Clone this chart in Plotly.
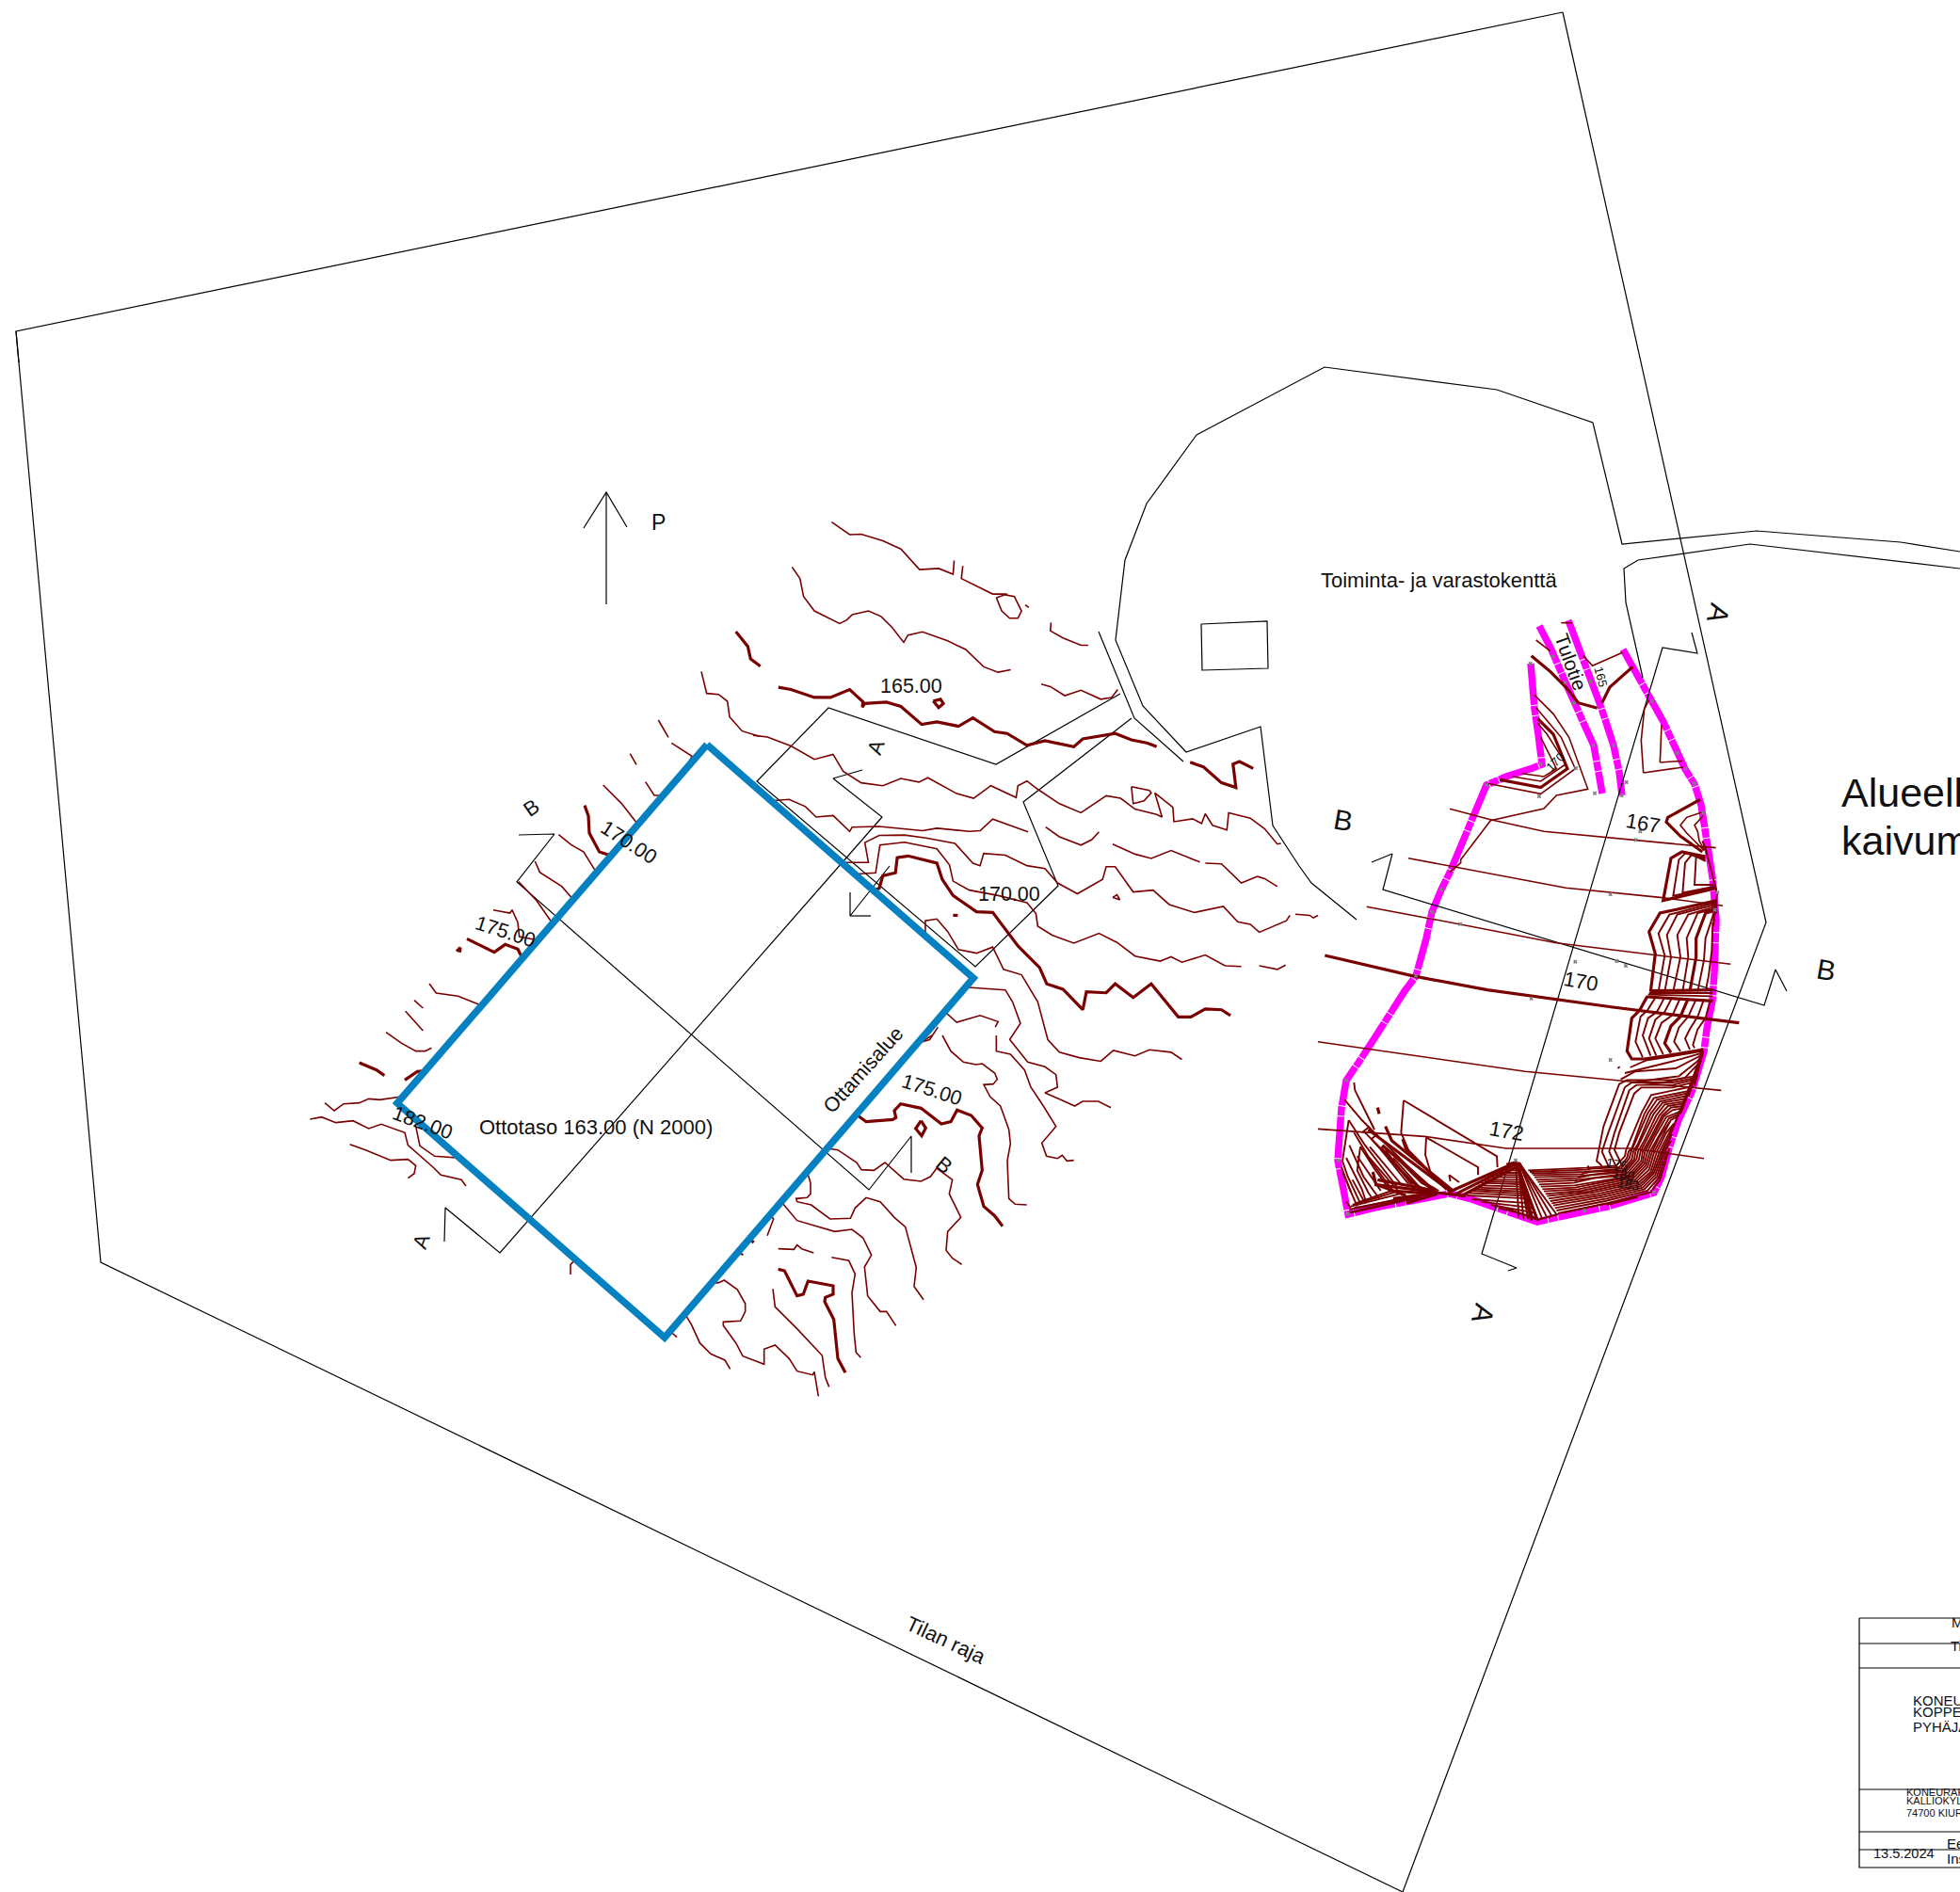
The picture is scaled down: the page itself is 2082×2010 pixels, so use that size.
import plotly.graph_objects as go

FONT = "Liberation Sans"
RED = "#7a0000"

# ---- map outlines (sheet coordinates) -------------------------------------
BOUNDARY = [[(1660,13),(17,352),(107,1341),(1490,2010)], [(1660,13),(1876,980),(1490,2010)], [(17,352),(20,385)]]
FIELD = [
    [(1271,462),(1407,390),(1590,414),(1692,449),(1723,578),(1866,564),(2019,576),(2082,586)],
    [(2082,604),(1859,578),(1740,595),(1725,604),(1727,640),(1745,720)],
    [(1271,462),(1218,535),(1195,595),(1185,680),(1214,750),(1260,799),(1339,772),(1352,877),(1380,920),(1393,938),(1441,977)],
    [(1167,671),(1205,763),(1257,809)],
    [(1276,663),(1346,660),(1347,710),(1277,712),(1276,663)],
]
SECTIONS = [
    [(1190,737),(1058,812),(880,752),(804,830),(1036,1027),(1124,941),(1087,852),(1202,763)],
    [(916,818),(885,827),(937,868),(531,1331),(473,1283),(472,1319)],
    [(945,920),(903,973),(903,948)], [(903,973),(925,973)],
    [(551,887),(589,886),(549,937),(923,1264),(968,1207),(968,1246)],
    [(1797,672),(1803,694),(1766,688),(1574,1332),(1611,1347),(1602,1350)],
    [(1457,916),(1479,907),(1469,945),(1874,1068),(1886,1030),(1898,1053)],
    [(620,561),(644,523),(666,560)], [(644,523),(644,642)],
]
TITLE_BLOCK = [[(1975,1719),(1975,1984),(2082,1984)], [(1975,1719),(2082,1719)], [(1975,1746),(2082,1746)],
               [(1975,1772),(2082,1772)], [(1975,1901),(2082,1901)], [(1975,1946),(2082,1946)], [(1975,1965),(2082,1965)]]
EXTRACTION_AREA = [(751,791),(1034,1039),(706,1421),(422,1172),(751,791)]
PIT_EDGE = [(1626,705),(1628,730),(1630,753),(1634,780),(1638,812),(1628,816),(1600,825),(1579,834),(1565,868),(1553,897),
            (1540,927),(1531,945),(1521,969),(1515,997),(1504,1037),(1492,1053),(1477,1078),(1460,1103),(1443,1129),(1430,1148),
            (1425,1177),(1423,1210),(1421,1233),(1427,1263),(1432,1290),(1460,1283),(1517,1272),(1540,1268),(1560,1273),(1610,1290),
            (1633,1298),(1660,1292),(1707,1282),(1757,1267),(1765,1250),(1773,1220),(1783,1190),(1797,1160),(1810,1117),(1813,1093),
            (1819,1063),(1821,1033),(1822,1000),(1823,977),(1819,932),(1811,887),(1807,855),(1800,833),(1790,817),(1767,767),(1750,737),(1735,710),(1724,690)]
ROAD_W = [(1635,665),(1647,688),(1663,725),(1672,747),(1683,770),(1693,792),(1697,817),(1702,843)]
ROAD_E = [(1666,659),(1677,688),(1690,724),(1701,752),(1714,792),(1720,820),(1723,845)]

Z6_THIN = [
    [(218,38),(268,73),(300,72),(360,90),(410,113),(462,170),(515,167),(555,183),(558,145)],
    [(582,160),(578,195),(665,238),(705,238)],
    [(675,248),(700,240),(725,245),(745,285),(735,305),(712,305),(690,285),(675,248)],
    [(755,268),(765,275)],
    [(108,163),(130,195),(140,245),(170,285),(240,320),(260,310),(275,295),(320,285),(355,300),(385,330),(418,372),(430,352),(470,343),(540,368),(590,392),(640,440),(680,455),(715,448)],
    [(827,317),(825,340),(860,360),(910,380),(930,380)],
    [(800,488),(825,495),(865,520),(910,505),(965,530),(995,525),(1012,503)],
    [(0,630),(40,635),(105,660),(170,697),(222,683),(250,730),(300,762),(360,770),(410,750),(460,760),(485,748),(565,792),(612,805),(660,770),(730,803),(735,770),(760,757),(790,780),(850,820),(910,845),(980,798),(1020,805),(1060,835),(1120,850),(1135,857),(1115,790),(1165,830),(1168,870),(1220,862),(1245,875),(1255,848),(1275,880),(1315,893),(1320,845),(1380,860),(1420,890),(1455,932),(1465,930)],
    [(1050,773),(1100,783),(1105,790),(1085,812),(1055,820),(1050,773)],
    [(50,812),(100,808),(145,828),(175,857),(222,853),(268,897),(275,885),(350,883),(470,895),(510,888),(600,897),(630,895),(665,863),(710,880),(763,898)],
    [(812,885),(850,912),(910,935),(940,920),(960,898)],
    [(998,932),(1060,960),(1105,972),(1160,950),(1240,982)],
    [(1255,985),(1300,987),(1355,1040),(1400,1022),(1420,1028),(1455,1050)],
    [(247,983),(320,983),(310,928),(350,908),(420,907),(480,915),(560,930),(610,985),(630,992),(640,958),(700,963),(760,992),(810,1000),(845,1040),(900,1070),(970,1030),(980,995),(1005,995),(1055,1065),(1110,1060),(1155,1100),(1225,1122),(1305,1105),(1345,1148),(1380,1155),(1405,1177),(1480,1145),(1490,1130)],
    [(998,1080),(1010,1073),(1018,1087),(998,1080)],
    [(1505,1127),(1545,1130),(1555,1137),(1568,1130)],
    [(287,1015),(340,1012),(352,935),(420,927),(510,945),(545,990),(555,1035),(600,1060),(680,1075),(760,1095),(785,1125),(790,1160),(830,1185),(890,1207),(960,1180),(1010,1205),(1060,1243),(1130,1257),(1160,1245),(1190,1260),(1255,1240),(1310,1270),(1355,1272)],
    [(1405,1270),(1455,1280),(1478,1268)],
    [(478,1185),(478,1145),(510,1140),(540,1175),(570,1225),(620,1235),(665,1218),(695,1280),(745,1295),(790,1370),(818,1475),(850,1510),(905,1525),(965,1535),(1000,1505),(1060,1520),(1100,1503),(1160,1510),(1190,1530)],
    [(597,1330),(700,1337),(720,1370),(742,1430),(712,1475)],
    [(535,1400),(565,1427),(630,1408),(680,1425),(672,1440)],
    [(465,1482),(490,1475),(513,1440)],
]
Z6_THICK = [
    [(70,497),(105,503),(170,525),(215,525),(268,503),(305,537),(303,552),(310,542),(370,538),(410,550),(468,600),(510,593),(570,605),(610,582),(670,620),(705,625),(760,658),(810,645),(890,662),(915,640),(1005,625),(1050,643),(1095,652),(1120,662)],
    [(500,535),(520,530),(528,542),(515,553),(500,535)],
    [(1213,705),(1250,718),(1300,762),(1340,775),(1332,710),(1350,703),(1388,722)],
    [(335,1060),(350,1055),(360,1020),(395,1012),(400,970),(430,965),(510,985),(525,1030),(555,1075),(620,1120),(665,1122),(735,1215),(795,1275),(815,1320),(860,1335),(915,1392),(925,1342),(980,1345),(1005,1320),(1055,1358),(1105,1320),(1180,1412),(1215,1412),(1255,1390),(1300,1392),(1325,1408)],
    [(555,1130),(568,1130)],
]
Z5_THIN = [
    [(598,20),(630,0)],
    [(663,0),(690,50),(730,85),(770,93),(790,90),(830,120),(838,140),(825,155),(795,157),(815,195),(848,225),(875,300),(880,345),(870,400),(875,520),(895,538),(932,540)],
    [(835,0),(835,50),(880,60),(925,110),(945,165),(985,225),(1025,290),(980,343),(995,385),(1030,392),(1045,382),(1060,400),(1082,398)],
    [(877,12),(935,85),(990,100),(1025,125),(1030,165),(990,183),(1040,205),(1085,225),(1110,210),(1160,210),(1200,230)],
    [(297,360),(330,365),(390,405),(405,428),(445,430),(480,405),(540,458),(595,465),(625,450),(645,423),(695,460),(685,505),(722,580),(680,625),(675,685),(695,710),(725,730)],
    [(233,437),(243,470),(243,505),(232,517),(197,520),(200,530),(245,540),(305,585),(370,583),(385,550),(420,517),(465,530),(510,580),(545,610),(580,740),(573,800),(603,842)],
    [(150,530),(200,590),(320,625),(375,618),(410,645),(437,700),(415,738),(425,830),(465,880),(485,880),(515,925)],
    [(105,638),(125,585),(115,572)],
    [(140,680),(190,682),(200,668),(215,680),(253,693)],
    [(310,707),(365,718),(385,760),(375,820),(382,950),(388,1010),(403,1027)],
    [(10,692),(28,698)],
    [(123,808),(130,865),(200,935),(280,1020),(290,1090),(302,1120)],
]
Z5_THICK = [
    [(390,253),(420,275),(505,268),(515,262),(510,240),(530,218),(595,232),(660,282),(690,275),(710,238),(755,255),(790,295),(780,320),(790,430),(775,475),(795,545),(830,575),(855,608)],
    [(595,272),(610,295),(597,320),(578,297),(595,272)],
    [(50,650),(62,660)],
    [(140,745),(160,750),(200,830),(220,825),(235,783),(315,798),(315,825),(290,835),(288,848),(317,905),(330,1030),(354,1075)],
]
Z4_THIN = [
    [(1138,15),(1170,70)], [(1180,88),(1245,130),(1225,170)], [(1048,122),(1068,157)], [(1097,212),(1125,255),(1155,255)],
    [(962,222),(1020,280),(1075,350)], [(820,380),(860,412),(900,435),(940,500)], [(745,465),(760,500),(830,545),(867,587)],
    [(692,530),(750,590),(800,662)], [(612,620),(665,630),(672,620),(690,660),(695,705),(745,715)],
    [(408,855),(430,885),(500,895),(575,925)], [(360,908),(388,933)], [(332,943),(388,1005)],
    [(270,1010),(320,1045),(365,1070),(395,1070),(415,1060)], [(498,998),(508,998)],
    [(75,1235),(105,1260),(135,1238),(185,1235),(215,1222),(250,1225),(320,1215)],
    [(28,1287),(65,1280),(110,1298),(165,1292),(215,1317),(255,1303),(330,1330),(340,1370),(420,1440),(445,1465),(510,1480),(525,1500)],
    [(365,1310),(378,1372),(425,1405),(495,1410),(533,1433)],
    [(155,1367),(205,1385),(285,1418),(340,1415),(365,1435),(360,1460),(340,1475)],
]
Z4_THICK = [
    [(903,287),(915,320),(918,375),(950,435),(980,445),(1005,430)],
    [(528,712),(615,755),(650,730),(690,745),(705,775)], [(495,752),(507,740),(505,755)],
    [(185,1107),(240,1130),(265,1148)], [(330,1162),(370,1135),(397,1133)],
]
Z10_THIN = [
    [(18,372),(18,340),(30,328),(45,328)], [(335,552),(357,572)], [(550,300),(568,310)],
    [(383,497),(405,535),(430,590),(465,625),(510,645),(527,673)],
    [(467,400),(490,398),(508,390),(550,420),(575,465),(575,490),(560,520),(505,523),(505,535),(545,590),(567,632),(635,658),(635,610),(670,597),(715,640),(740,680),(790,692),(795,682),(808,760)],
]
Z12_THIN = [[(435,640),(452,710),(490,713),(518,735),(525,785),(565,830),(620,847)]]
Z12_THICK = [[(545,513),(583,560),(592,600),(623,623)]]

Z1_THIN = [
    [(480,718),(610,752),(780,790),(885,800),(1075,817),(1328,842)],
    [(348,875),(480,900),(850,970),(1150,1000),(1350,1027)],
    [(215,1030),(430,1070),(820,1145),(1375,1213)],
    [(755,180),(800,215)], [(835,125),(870,125)], [(905,230),(935,262),(1030,220)],
    [(1097,603),(1090,500),(1100,400),(1115,370)], [(1097,603),(1225,585)],
    [(1150,570),(1155,450)], [(1150,570),(1220,565)],
    [(750,355),(810,415),(860,490),(920,655),(820,675),(780,717),(610,755),(515,880),(515,890),(480,920)],
    [(600,637),(770,670),(880,590),(835,490),(755,395)],
    [(680,615),(770,630),(850,575),(790,480),(760,445)],
    [(710,605),(780,615),(820,590),(770,490)],
    [(1285,728),(1235,745),(1215,770),(1235,795),(1290,850)],
    [(1287,740),(1260,770),(1270,790),(1275,820),(1292,850)],
]
Z1_THICK = [
    [(82,1185),(360,1250),(600,1295),(1000,1350),(1402,1400)],
    [(740,230),(800,280),(850,330),(890,380),(950,397)],
    [(965,380),(990,330),(1063,265)],
    [(640,625),(770,650),(855,590),(810,480),(760,430)],
    [(1278,688),(1175,745),(1170,760),(1205,795),(1215,805),(1285,855)],
]
Z2_THIN = [
    [(0,320),(660,415),(1285,475)],
    [(0,598),(340,622),(600,660),(1000,660),(1230,692)],
]
Z9_DENSE = [
    [(335,155),(270,140),(250,160),(232,275),(365,248)],
    [(335,160),(290,145),(270,170),(262,265),(365,245)],
    [(335,165),(305,150),(300,240),(360,240)],
    [(372,296),(220,335),(185,395),(205,465),(185,580)],
    [(372,302),(245,335),(212,400),(225,470),(205,580)],
    [(372,308),(280,335),(245,400),(255,470),(232,580)],
    [(372,314),(310,330),(275,410),(280,470),(262,580)],
    [(372,325),(360,335),(335,410),(330,480),(310,580)],
    [(358,360),(355,450),(345,530),(335,580)],
    [(155,585),(358,585)], [(152,590),(358,595)],
    [(178,595),(150,640),(128,660),(112,740),(135,790)],
    [(205,598),(180,645),(152,665),(135,720),(160,785)],
    [(228,600),(205,645),(175,670),(155,730),(178,785)],
    [(255,600),(230,655),(195,680),(175,730),(200,780)],
    [(305,605),(280,660),(250,695),(235,740),(255,770)],
    [(330,605),(310,660),(285,700),(270,730),(285,765)],
    [(350,610),(335,665),(310,700),(295,750),(300,760)],
    [(95,822),(145,800),(328,770)],
    [(78,840),(140,825),(240,800),(328,775)],
    [(65,860),(110,835),(240,825),(328,780)],
    [(100,870),(250,850),(325,790)],
    [(200,870),(270,855),(322,800)],
    [(55,825),(62,820)],
    [(360,370),(368,290),(372,270),(365,240),(335,125),(325,100)],
]
Z9_THICK = [
    [(335,150),(260,135),(225,155),(200,290),(370,250)],
    [(372,290),(190,330),(155,390),(175,460),(160,580)],
    [(372,320),(335,330),(305,410),(305,470),(285,580)],
    [(158,578),(358,575)], [(148,597),(358,610)],
    [(150,595),(125,640),(100,665),(85,770),(100,795),(140,795),(210,785),(328,765)],
    [(280,602),(255,660),(225,690),(205,745),(225,775)],
]
Z8_DENSE = [
    [(612,8),(530,22),(385,22),(360,35),(310,170),(288,280),(305,296)],
    [(608,14),(530,30),(400,30),(378,45),(325,190),(305,250),(325,295)],
    [(604,20),(530,38),(415,38),(392,55),(345,190),(328,250),(350,298)],
    [(600,28),(530,46),(430,46),(408,65),(360,190),(345,245),(372,300)],
    [(75,315),(255,308),(270,305),(360,300),(385,270),(390,250),(400,240),(440,130),(470,80),(590,55)],
    [(85,325),(240,322),(265,315),(370,310),(400,275),(405,250),(420,225),(460,130),(490,90),(580,72)],
    [(95,340),(225,335),(270,325),(380,315),(415,275),(420,250),(440,215),(478,135),(505,100),(572,90)],
    [(105,355),(215,350),(280,335),(390,325),(430,280),(435,250),(458,210),(497,135),(525,110),(565,105)],
    [(115,370),(220,365),(400,330),(440,290),(450,250),(475,200),(510,140),(560,120)],
    [(125,385),(240,375),(410,340),(450,300),(465,250),(490,200),(525,150),(550,135)],
    [(135,400),(280,380),(420,350),(460,315),(480,250),(510,190),(535,160)],
    [(145,415),(300,390),(430,360),(470,320),(495,250),(530,180)],
    [(155,430),(320,400),(440,370),(480,330),(505,250),(525,215)],
    [(165,447),(320,415),(460,380),(490,340),(520,240)],
    [(70,310),(255,302),(350,295),(378,265),(382,245),(432,125),(462,70),(596,42)],
    [(80,320),(250,315),(365,305),(392,272),(398,250),(450,130),(480,85),(585,63)],
    [(90,332),(235,328),(375,312),(408,275),(412,250),(470,130),(498,95),(576,81)],
    [(100,347),(220,342),(385,320),(422,278),(428,250),(488,135),(515,105),(568,97)],
    [(110,362),(218,358),(395,328),(435,285),(442,250),(502,138),(530,118),(562,112)],
    [(120,377),(230,370),(405,335),(445,295),(458,250),(518,145),(555,128)],
    [(130,392),(260,378),(415,345),(455,308),(472,250),(522,155)],
    [(140,408),(290,385),(425,355),(465,318),(488,250),(530,170)],
    [(150,422),(310,395),(435,365),(475,325),(500,250),(528,195)],
    [(160,438),(315,408),(450,375),(485,335),(512,250)],
    [(627,-69),(600,40)], [(627,-69),(580,75)], [(627,-69),(560,120)], [(627,-69),(530,180)], [(625,-60),(555,130)],
    [(35,285),(70,465)], [(35,285),(100,468)], [(40,285),(130,460)], [(40,285),(160,450)], [(30,285),(40,460)],
    [(38,285),(55,465)], [(38,285),(85,465)], [(40,285),(115,465)], [(42,285),(145,455)],
    [(0,290),(35,282)], [(260,295),(265,310)],
    [(0,430),(100,468),(165,450)],
    [(180,445),(320,415)], [(320,420),(420,395)],
]
Z7_DENSE = [
    [(85,0),(88,25),(135,120),(150,150)],
    [(55,55),(110,120),(240,250),(335,345)],
    [(68,120),(120,200),(220,330)],
    [(68,120),(55,200),(48,250),(65,300),(105,385)],
    [(105,205),(100,250),(95,280),(130,350),(140,365)],
    [(105,205),(150,275),(190,330)],
    [(85,160),(130,235),(225,345)],
    [(70,200),(115,300),(165,370)],
    [(60,240),(110,340),(125,385)],
    [(50,290),(80,360),(95,395)],
    [(115,155),(150,190),(290,335)],
    [(140,180),(250,300),(310,350)],
    [(170,205),(270,320),(330,350)],
    [(205,225),(300,320),(345,345)],
    [(240,255),(310,320),(355,345)],
    [(265,275),(325,330)],
    [(95,235),(170,345)], [(120,225),(205,340)], [(135,205),(240,330)], [(155,195),(260,325)],
    [(185,215),(275,335)], [(210,240),(300,340)], [(45,270),(75,350)], [(80,310),(115,375)],
    [(110,160),(135,140)], [(140,180),(160,165)],
    [(243,57),(235,160),(260,220)], [(243,57),(540,235),(542,270)],
    [(315,175),(480,270),(480,295)], [(315,175),(312,230),(330,290)],
    [(388,295),(420,318)], [(388,295),(392,315)],
    [(560,280),(615,280)], [(530,295),(620,295)], [(510,310),(625,310)], [(490,320),(630,325)], [(470,335),(635,340)],
    [(455,345),(640,355)], [(445,360),(645,370)], [(460,372),(650,385)], [(490,380),(655,400)], [(520,390),(660,415)], [(545,400),(665,430)],
    [(545,288),(618,288)], [(520,302),(622,302)], [(500,315),(628,318)], [(480,328),(632,332)], [(462,340),(638,348)], [(450,352),(642,362)],
    [(65,415),(340,350)], [(75,395),(230,355)], [(90,385),(205,345)], [(70,405),(280,360)], [(60,380),(75,400)],
    [(80,390),(215,350)], [(85,400),(270,365)], [(75,415),(300,365)],
]
Z7_THICK = [
    [(130,150),(390,345)], [(185,140),(205,185),(400,345)], [(240,180),(250,210),(380,340)], [(175,200),(245,260),(340,345)],
    [(145,285),(155,325),(250,360)], [(150,325),(350,350)], [(200,345),(350,355)], [(250,385),(350,355)],
    [(160,310),(345,345)], [(210,370),(345,352)],
    [(385,350),(600,255)], [(410,355),(600,260)], [(430,360),(600,270)],
    [(600,255),(670,440)], [(605,255),(650,440)], [(160,80),(165,100)],
    [(340,350),(440,362)],
]

CROPS_THIN = [(800,540,2.613,Z6_THIN),(780,1100,3,Z5_THIN),(320,760,3,Z4_THIN),(600,1230,3,Z10_THIN),(600,500,3,Z12_THIN),(1380,620,3,Z1_THIN),(1400,1000,3,Z2_THIN)]
CROPS_THICK = [(800,540,2.613,Z6_THICK),(780,1100,3,Z5_THICK),(320,760,3,Z4_THICK),(600,500,3,Z12_THICK),(1380,620,3,Z1_THICK),(1410,1150,3,Z7_THICK),(1700,860,3,Z9_THICK)]
CROPS_DENSE = [(1700,860,3,Z9_DENSE),(1600,1140,3,Z8_DENSE),(1410,1150,3,Z7_DENSE)]

Z1_SURVEY = [(737,255),(810,232),(848,315),(928,312),(875,380),(938,515),(1003,515),(770,575),(597,642),(765,678),(882,588),(942,668),(1028,675),(1043,633),(1125,375),(1205,540),(1232,590),(1260,637),(1287,730),(1073,817),(1087,790),(992,990),(1333,985),(1325,1040),(453,975),(423,1047),(513,1085),(372,1250),(880,1205),(1012,1203),(1041,1218),(740,1322)]
Z2_SURVEY = [(932,378),(90,443),(65,698),(95,868),(630,698),(850,858),(1070,800)]

# text: label, x, y, size, rotation, anchor
LABELS = [
    ("P",699,555,23,0,"center"), ("Toiminta- ja varastokenttä",1528,616,22,0,"center"),
    ("165.00",968,729,21.5,0,"center"), ("170.00",1072,950,21.5,0,"center"),
    ("175.00",990,1158,21.5,18,"center"), ("175.00",537,990,21.5,18,"center"), ("170.00",668,895,21.5,33,"center"),
    ("182.00",449,1193,21.5,20,"center"), ("Ottotaso 163.00 (N 2000)",633,1197,22,0,"center"),
    ("Ottamisalue",917,1137,21.5,-48,"center"), ("Tilan raja",1005,1742,22,25,"center"),
    ("167",1745,874,22,10,"center"), ("170",1679,1042,22,10,"center"), ("172",1600,1201,22,10,"center"),
    ("Tulotie",1669,703,21,70,"center"), ("165",1701,719,13,75,"center"), ("170",1652,809,13,-45,"center"),
    ("175",1718,1237,14,10,"center"), ("180",1725,1248,14,10,"center"), ("183",1730,1258,14,10,"center"),
    ("A",930,794,22,-70,"center"), ("A",447,1319,22,-70,"center"), ("A",1826,652,30,105,"center"), ("A",1576,1396,30,105,"center"),
    ("B",564,858,22,-35,"center"), ("B",1003,1237,22,40,"center"), ("B",1427,871,30,10,"center"), ("B",1940,1030,30,10,"center"),
    ("Alueellinen",1956,842,43,0,"left"), ("kaivumaa-alue",1956,893,43,0,"left"),
    ("Mittakaava",2073,1723,15,0,"left"), ("Tiedosto",2072,1748,15,0,"left"),
    ("KONEURAKOINTI",2032,1806,15,0,"left"), ("KOPPELO",2032,1818,15,0,"left"), ("PYHÄJÄRVI",2032,1834,15,0,"left"),
    ("KONEURAKOINTI",2025,1904,11,0,"left"), ("KALLIOKYLÄNTIE",2025,1913,11,0,"left"), ("74700 KIURUVESI",2025,1926,11,0,"left"),
    ("13.5.2024",1990,1969,14.5,0,"left"), ("Eero",2068,1958,15,0,"left"), ("Ins.",2068,1974,15,0,"left"),
]


def flatten(lines):
    xs, ys = [], []
    for ln in lines:
        xs += [p[0] for p in ln] + [None]
        ys += [p[1] for p in ln] + [None]
    return xs, ys


def from_crops(crops):
    out = []
    for x0, y0, k, lines in crops:
        out += [[(x0 + px / k, y0 + py / k) for px, py in ln] for ln in lines]
    return out


fig = go.Figure()


def add(lines, color, width, dash="solid"):
    xs, ys = flatten(lines)
    fig.add_trace(go.Scatter(x=xs, y=ys, mode="lines", hoverinfo="skip", showlegend=False,
                             line=dict(color=color, width=width, dash=dash)))


add([PIT_EDGE, ROAD_W, ROAD_E], "#ff00ff", 7.5, "44px,1px,10px,1px")
add(BOUNDARY + FIELD + SECTIONS + TITLE_BLOCK, "#000000", 1.2)
add(from_crops(CROPS_THIN), RED, 1.6)
add(from_crops(CROPS_DENSE), RED, 1.9)
add(from_crops(CROPS_THICK), RED, 3.2)
add([EXTRACTION_AREA], "#0580c0", 7.5)

survey = from_crops([(1380,620,3,[Z1_SURVEY]),(1400,1000,3,[Z2_SURVEY])])
sx, sy = flatten(survey)
fig.add_trace(go.Scatter(x=sx, y=sy, mode="markers", hoverinfo="skip", showlegend=False,
                         marker=dict(symbol="x", size=4, color="#808080")))

for text, x, y, size, rot, anchor in LABELS:
    fig.add_annotation(x=x, y=y, xref="x", yref="y", text=text, showarrow=False, textangle=rot,
                       xanchor=anchor, yanchor="middle", borderpad=0, borderwidth=0,
                       font=dict(family=FONT, size=size, color="#111111"))

fig.update_layout(width=2082, height=2010, margin=dict(l=0, r=0, t=0, b=0), paper_bgcolor="white", plot_bgcolor="white",
                  xaxis=dict(range=[0, 2082], visible=False, fixedrange=True),
                  yaxis=dict(range=[2010, 0], visible=False, fixedrange=True), showlegend=False)
fig.write_html("out.html", config={"displayModeBar": False}, post_script="document.body.style.margin='0';")
